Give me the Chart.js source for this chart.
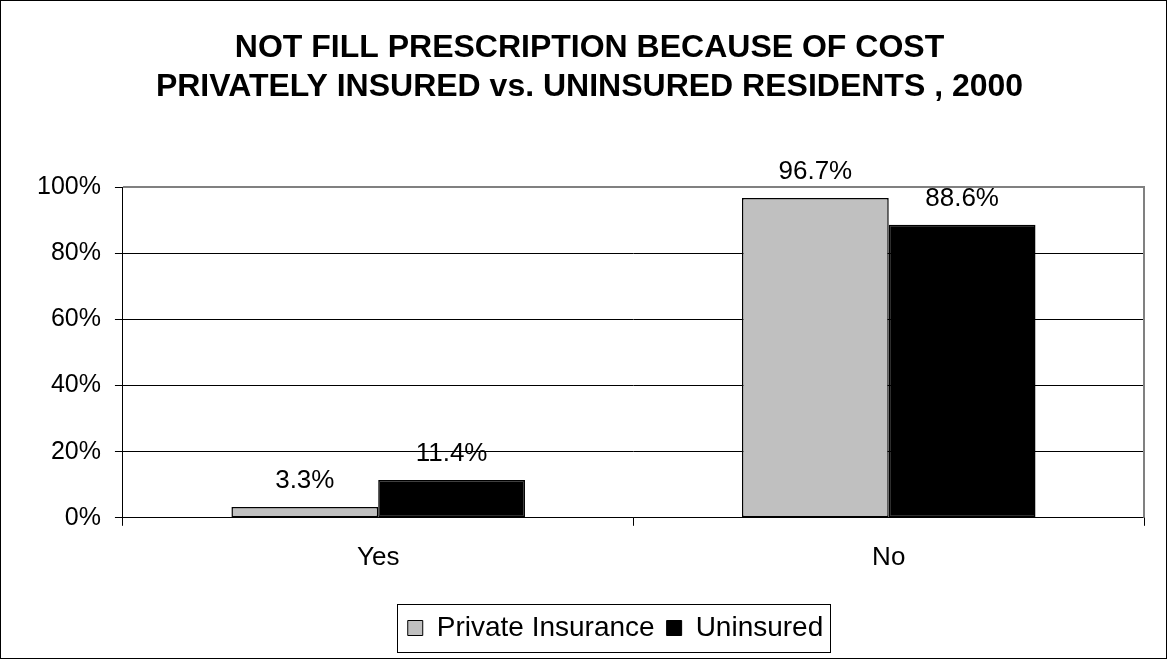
<!DOCTYPE html>
<html><head><meta charset="utf-8">
<script src="https://cdn.jsdelivr.net/npm/chart.js@4"></script>
<style>html,body{margin:0;padding:0;background:#fff}#wrap{width:1167px;height:659px;position:relative}</style>
</head><body><div id="wrap"><canvas id="c" width="1167" height="659"></canvas></div>
<script>
const titleLines = ['NOT FILL PRESCRIPTION BECAUSE OF COST', 'PRIVATELY INSURED vs. UNINSURED RESIDENTS , 2000'];
const categories = ['Yes', 'No'];
const privateInsurance = [3.3, 96.7];
const uninsured = [11.4, 88.6];
const seriesNames = ['Private Insurance', 'Uninsured'];
const yTicks = [0, 20, 40, 60, 80, 100];

const FONT = "Arial, 'Liberation Sans', sans-serif";
const LEGEND_SHIFT = 32;
const TITLE_SHIFT = 6;

const decor = {
  id: 'decor',
  afterUpdate(chart) {
    const L = chart.legend;
    if (L) {
      L.left += LEGEND_SHIFT; L.right += LEGEND_SHIFT;
      (L.legendHitBoxes || []).forEach(h => { h.left += LEGEND_SHIFT; });
    }
    const T = chart.titleBlock;
    if (T) { T.left += TITLE_SHIFT; T.right += TITLE_SHIFT; }
  },
  afterDraw(chart) {
    const ctx = chart.ctx, a = chart.chartArea;
    ctx.save();
    // outer border
    ctx.strokeStyle = '#000'; ctx.lineWidth = 1;
    ctx.strokeRect(0.5, 0.5, chart.width - 1, chart.height - 1);
    // plot top/right border gray
    ctx.strokeStyle = '#808080'; ctx.lineWidth = 2;
    ctx.beginPath();
    ctx.moveTo(a.left, a.top); ctx.lineTo(a.right, a.top); ctx.lineTo(a.right, a.bottom);
    ctx.stroke();
    // data labels
    ctx.fillStyle = '#000'; ctx.font = '26px ' + FONT;
    ctx.textAlign = 'center'; ctx.textBaseline = 'alphabetic';
    chart.data.datasets.forEach((ds, i) => {
      chart.getDatasetMeta(i).data.forEach((bar, j) => {
        ctx.fillText(ds.data[j].toFixed(1) + '%', bar.x, bar.y - 19);
      });
    });
    // legend box
    const L = chart.legend;
    ctx.strokeStyle = '#000'; ctx.lineWidth = 1;
    const it = L.legendHitBoxes;
    if (it && it.length) {
      const last = it[it.length-1];
      const x0 = it[0].left - 11, x1 = last.left + last.width + 6;
      const cy = it[0].top + it[0].height / 2;
      ctx.strokeRect(Math.round(x0)+0.5, Math.round(cy-24)+0.5, Math.round(x1-x0), 48);
    }
    ctx.restore();
  }
};

new Chart(document.getElementById('c'), {
  type: 'bar',
  data: {
    labels: categories,
    datasets: [
      { label: seriesNames[0], data: privateInsurance, backgroundColor: '#c0c0c0', borderColor: '#000', borderWidth: 1.5, borderSkipped: false },
      { label: seriesNames[1], data: uninsured, backgroundColor: '#000', borderColor: '#000', borderWidth: 1.5, borderSkipped: false }
    ]
  },
  options: {
    responsive: false, animation: false,
    layout: { padding: { left: 23, right: 23, top: 0, bottom: 7 } },
    datasets: { bar: { categoryPercentage: 0.575, barPercentage: 1 } },
    plugins: {
      title: { display: true, text: titleLines, color: '#000', font: { family: FONT, size: 32, weight: 'bold', lineHeight: 1.22 }, padding: { top: 29, bottom: 80 } },
      legend: {
        position: 'bottom',
        labels: { color: '#000', font: { family: FONT, size: 28 }, boxWidth: 15, boxHeight: 15, padding: 12,
          generateLabels(chart) {
            return chart.data.datasets.map((d, i) => ({ text: d.label, fillStyle: d.backgroundColor, strokeStyle: '#000', lineWidth: 1, datasetIndex: i, fontColor: '#000' }));
          } }
      },
      tooltip: { enabled: false }
    },
    scales: {
      x: {
        grid: { offset: true, drawOnChartArea: false, drawTicks: true, tickLength: 8, color: '#000' },
        border: { color: '#000', width: 1 },
        ticks: { color: '#000', font: { family: FONT, size: 26 }, padding: 16 },
        afterFit(axis) { axis.height += 13; }
      },
      y: {
        min: 0, max: 100,
        afterBuildTicks(axis) { axis.ticks = yTicks.map(v => ({ value: v })); },
        grid: { color: ctx => (ctx.tick && ctx.tick.value === 100) ? '#808080' : '#000', tickColor: '#000', tickLength: 8, lineWidth: 1 },
        border: { color: '#000', width: 1 },
        ticks: { color: '#000', font: { family: FONT, size: 25 }, padding: 14, callback: v => v + '%' }
      }
    }
  },
  plugins: [decor]
});
</script></body></html>
